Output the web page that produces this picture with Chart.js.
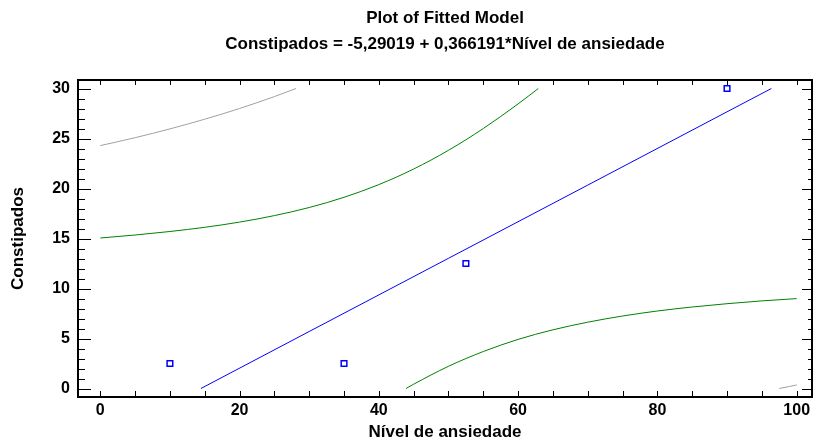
<!DOCTYPE html>
<html>
<head>
<meta charset="utf-8">
<script src="https://cdn.jsdelivr.net/npm/chart.js@4/dist/chart.umd.min.js"></script>
<style>
  html, body { margin: 0; padding: 0; background: #fff; }
  #wrap { width: 814px; height: 443px; }
</style>
</head>
<body>
<div id="wrap"><canvas id="c" width="814" height="443"></canvas></div>
<script>
// ---- data ----
const titleLines = ["Plot of Fitted Model", "Constipados = -5,29019 + 0,366191*Nível de ansiedade"];
const xTitle = "Nível de ansiedade";
const yTitle = "Constipados";
const xTickValues = [0, 20, 40, 60, 80, 100];
const yTickValues = [0, 5, 10, 15, 20, 25, 30];

// observed points
const obsX = [10, 35, 52.5, 90];
const obsY = [2.5, 2.5, 12.5, 30];

// fitted line (blue)
const fitX = [14.45, 30, 50, 70, 90, 96.37];
const fitY = [0, 5.70, 13.02, 20.34, 27.67, 30];

// inner limits (green)
const upInX = [0, 5, 10, 15, 20, 25, 30, 35, 40, 45, 50, 55, 60, 62.9];
const upInY = [15.05, 15.35, 15.70, 16.12, 16.64, 17.29, 18.10, 19.12, 20.39, 21.95, 23.82, 26.00, 28.46, 30];
const loInX = [43.9, 45, 50, 55, 60, 65, 70, 75, 80, 85, 90, 95, 100];
const loInY = [0, 0.43, 2.22, 3.70, 4.91, 5.87, 6.63, 7.25, 7.75, 8.15, 8.48, 8.76, 8.99];

// outer limits (gray)
const upOutX = [0, 5, 10, 15, 20, 25, 28.1];
const upOutY = [24.29, 25.08, 25.96, 26.93, 28.00, 29.19, 30];
const loOutX = [97.5, 99, 100];
const loOutY = [0, 0.21, 0.35];

const pts = (xs, ys) => xs.map((x, i) => ({ x: x, y: ys[i] }));

Chart.defaults.font.family = "'Liberation Sans', Arial, sans-serif";
Chart.defaults.color = '#000';

const lineDs = (data, color) => ({
  type: 'line', data: data, borderColor: color, borderWidth: 1,
  pointRadius: 0, fill: false, cubicInterpolationMode: 'monotone', showLine: true
});

const frameTicks = {
  id: 'frameTicks',
  afterDatasetsDraw(chart) {
    const { ctx, chartArea: a, scales: { x, y } } = chart;
    ctx.save();
    ctx.strokeStyle = '#000';
    ctx.lineWidth = 1;
    ctx.beginPath();
    for (let v = 0; v <= 30; v += 1) {
      const py = Math.round(y.getPixelForValue(v)) + 0.5;
      const major = v % 5 === 0;
      ctx.moveTo(a.left, py); ctx.lineTo(a.left + (major ? 13 : 7), py);
      ctx.moveTo(a.right, py); ctx.lineTo(a.right - (major ? 10 : 4), py);
    }
    for (let v = 0; v <= 100; v += 5) {
      const px = Math.round(x.getPixelForValue(v)) + 0.5;
      ctx.moveTo(px, a.bottom); ctx.lineTo(px, a.bottom - 6);
      ctx.moveTo(px, a.top); ctx.lineTo(px, a.top + 5);
    }
    ctx.stroke();
    ctx.lineWidth = 2;
    ctx.strokeRect(a.left, a.top, a.right - a.left, a.bottom - a.top);
    ctx.restore();
  }
};

new Chart(document.getElementById('c'), {
  type: 'scatter',
  data: {
    datasets: [
      lineDs(pts(upOutX, upOutY), '#a0a0a0'),
      lineDs(pts(loOutX, loOutY), '#a0a0a0'),
      lineDs(pts(upInX, upInY), '#008000'),
      lineDs(pts(loInX, loInY), '#008000'),
      lineDs(pts(fitX, fitY), '#0000ff'),
      {
        type: 'scatter', data: pts(obsX, obsY), pointStyle: 'rect',
        pointRadius: 4, borderColor: '#0000ff', borderWidth: 1.5,
        backgroundColor: 'rgba(255,255,255,1)'
      }
    ]
  },
  options: {
    responsive: false,
    animation: false,
    devicePixelRatio: 1,
    layout: { autoPadding: false, padding: { left: 0, right: 2, top: 0, bottom: 0 } },
    plugins: {
      legend: { display: false },
      tooltip: { enabled: false },
      title: {
        display: true, text: titleLines, fullSize: false,
        font: { size: 17, weight: 'bold', lineHeight: 1.5 },
        padding: { top: 6, bottom: 23 }, color: '#000'
      }
    },
    scales: {
      x: {
        type: 'linear', min: -3.2, max: 102.2,
        grid: { display: false, drawTicks: false },
        border: { display: false },
        afterBuildTicks: (s) => { s.ticks = xTickValues.map(v => ({ value: v })); },
        afterFit: (s) => { s.height = 46; s.paddingLeft = 0; s.paddingRight = 0; },
        ticks: { font: { size: 16, weight: 'bold' }, padding: 4, maxRotation: 0, autoSkip: false },
        title: { display: true, text: xTitle, font: { size: 17, weight: 'bold' }, padding: { top: 0, bottom: 0 } }
      },
      y: {
        type: 'linear', min: -0.85, max: 30.85,
        grid: { display: false, drawTicks: false },
        border: { display: false },
        afterBuildTicks: (s) => { s.ticks = yTickValues.map(v => ({ value: v })); },
        afterFit: (s) => { s.width = 78; s.paddingTop = 0; s.paddingBottom = 0; },
        ticks: { font: { size: 16, weight: 'bold' }, padding: 8, autoSkip: false },
        title: { display: true, text: yTitle, font: { size: 17, weight: 'bold' }, padding: { top: 8, bottom: 0 } }
      }
    }
  },
  plugins: [frameTicks]
});
</script>
</body>
</html>
